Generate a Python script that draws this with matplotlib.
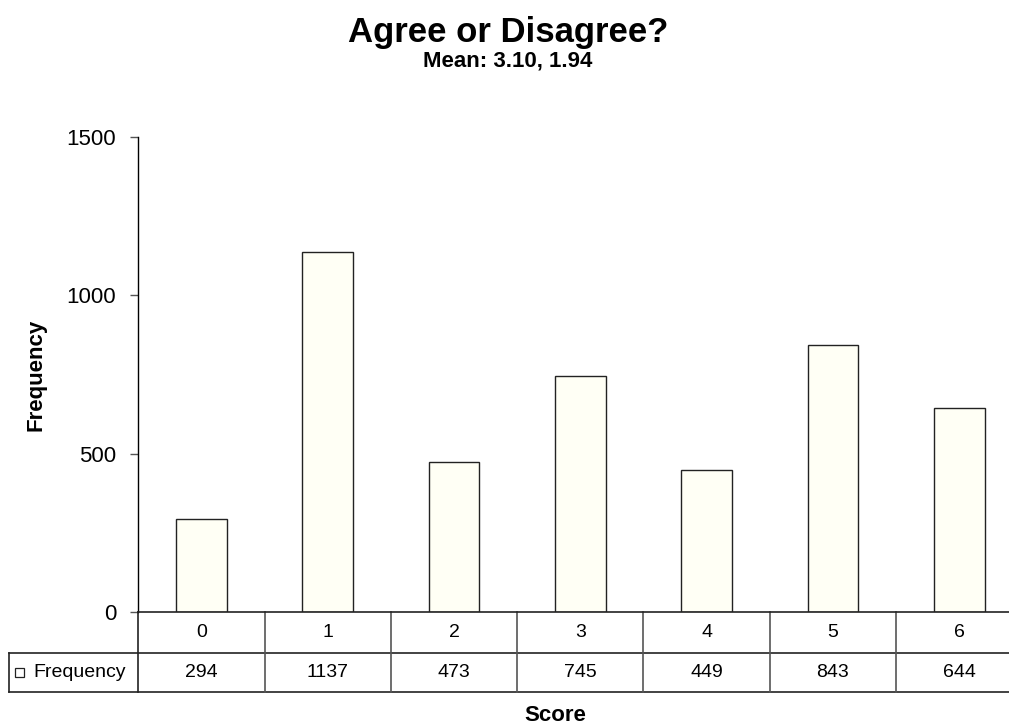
import matplotlib
matplotlib.use("Agg")
import matplotlib.pyplot as plt
from matplotlib.lines import Line2D
from matplotlib.patches import Rectangle
import matplotlib.transforms as mtransforms

plt.rcParams['font.family'] = ['Liberation Sans', 'DejaVu Sans']

# Score categories and their counts
scores = [0, 1, 2, 3, 4, 5, 6]
frequency = [294, 1137, 473, 745, 449, 843, 644]
series_name = "Frequency"
title = "Agree or Disagree?"
subtitle = "Mean: 3.10, 1.94"
y_ticks = [0, 500, 1000, 1500]

W, H = 1009, 724
fig = plt.figure(figsize=(W / 100, H / 100), dpi=100)
fig.patch.set_facecolor('white')

# plot area in pixel terms
left_px, right_px = 138.3, 1022.4
top_px, bottom_px = 137, 612
ax = fig.add_axes([left_px / W, 1 - bottom_px / H,
                   (right_px - left_px) / W, (bottom_px - top_px) / H])

ax.bar(scores, frequency, width=0.4, color='#fffff5', edgecolor='#222222',
       linewidth=1.0, zorder=2)

ax.set_xlim(-0.5, len(scores) - 0.5)
ax.set_ylim(0, 1500)
ax.set_yticks(y_ticks)
ax.set_yticklabels([str(t) for t in y_ticks], fontsize=16)
ax.tick_params(axis='y', direction='out', length=6, width=1, color='#555555', pad=10)
ax.tick_params(axis='x', bottom=False, labelbottom=False)
for s in ['top', 'right']:
    ax.spines[s].set_visible(False)
ax.spines['left'].set_color('black')
ax.spines['bottom'].set_color('#222222')
ax.spines['left'].set_linewidth(1.0)
ax.spines['bottom'].set_linewidth(1.2)

# data table under the axis
ax_h = bottom_px - top_px
ax_w = right_px - left_px
row1 = -(653 - bottom_px) / ax_h
row2 = -(692 - bottom_px) / ax_h
label_left = (9 - left_px) / ax_w
trans = mtransforms.blended_transform_factory(ax.transData, ax.transAxes)

line_kw = dict(clip_on=False, color='#222222', linewidth=1.2)
# horizontal rules
ax.add_line(Line2D([label_left, 1.2], [row1, row1], transform=ax.transAxes, **line_kw))
ax.add_line(Line2D([label_left, 1.2], [row2, row2], transform=ax.transAxes, **line_kw))
# left edge of the label cell and of the value grid
ax.add_line(Line2D([label_left, label_left], [row1, row2], transform=ax.transAxes, **line_kw))
ax.add_line(Line2D([0, 0], [0, row2], transform=ax.transAxes, **line_kw))
# column separators
for i in range(1, len(scores) + 1):
    xb = scores[0] - 0.5 + i
    ax.add_line(Line2D([xb, xb], [0, row2], transform=trans, clip_on=False,
                       color='#555555', linewidth=1.2))

for sc, fr in zip(scores, frequency):
    ax.text(sc, row1 / 2, str(sc), transform=trans, ha='center', va='center', fontsize=14)
    ax.text(sc, (row1 + row2) / 2, str(fr), transform=trans, ha='center', va='center', fontsize=14)

# legend key and series name in the label cell
key_x0 = 15 / W
key_y0 = 1 - 677 / H
fig.patches.append(Rectangle((key_x0, key_y0), 9 / W, 9 / H, transform=fig.transFigure,
                             facecolor='white', edgecolor='#222222', linewidth=0.9))
fig.text(33 / W, 1 - 672.5 / H, series_name, ha='left', va='center', fontsize=14)

# titles and axis labels
fig.text(508 / W, 1 - 42 / H, title, ha='center', va='baseline', fontsize=25, fontweight='bold')
fig.text(508 / W, 1 - 66 / H, subtitle, ha='center', va='baseline', fontsize=16, fontweight='bold')
fig.text(36 / W, 1 - 374.5 / H, "Frequency", ha='center', va='center', rotation=90,
         fontsize=16, fontweight='bold')
fig.text(555 / W, 1 - 721 / H, "Score", ha='center', va='baseline', fontsize=16, fontweight='bold')

fig.savefig("out.png", dpi=100, facecolor='white')
